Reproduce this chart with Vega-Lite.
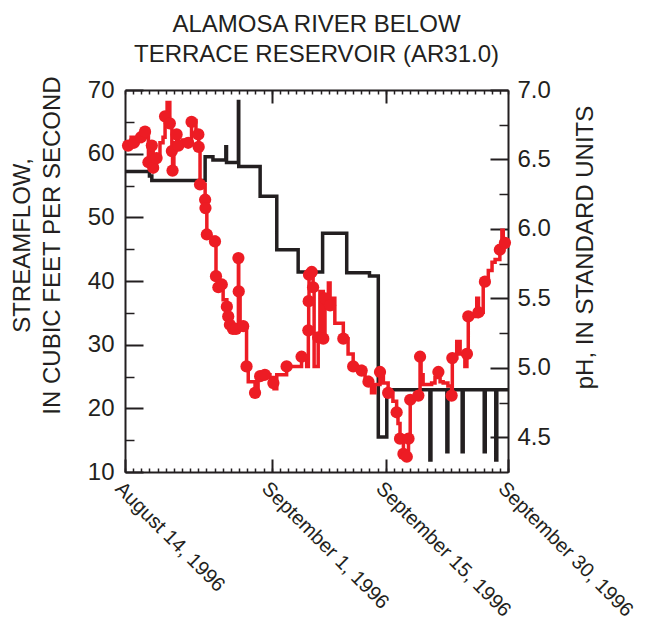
{
  "$schema": "https://vega.github.io/schema/vega-lite/v6.json",
  "width": 383,
  "height": 382,
  "autosize": "none",
  "padding": {"left": 125, "top": 90, "right": 138, "bottom": 154},
  "title": {
    "text": ["ALAMOSA RIVER BELOW", "TERRACE RESERVOIR (AR31.0)"],
    "font": "Liberation Sans",
    "fontSize": 24,
    "fontWeight": "normal",
    "color": "#231F20",
    "lineHeight": 30,
    "anchor": "middle",
    "baseline": "alphabetic",
    "offset": -10
  },
  "config": {
    "view": {"stroke": null},
    "font": "Liberation Sans",
    "axis": {
      "grid": false,
      "domainColor": "#231F20",
      "domainWidth": 2,
      "tickColor": "#231F20",
      "tickWidth": 1.5,
      "labelColor": "#231F20",
      "titleColor": "#231F20",
      "labelFont": "Liberation Sans",
      "titleFont": "Liberation Sans",
      "titleFontWeight": "normal",
      "labelLimit": 400
    }
  },
  "datasets": {
    "flow": [
      {"date": "1996-08-14T00:00", "cfs": 57.2},
      {"date": "1996-08-17T00:00", "cfs": 56.5},
      {"date": "1996-08-17T07:00", "cfs": 55.8},
      {"date": "1996-08-23T20:00", "cfs": 59.5},
      {"date": "1996-08-24T19:00", "cfs": 59.0},
      {"date": "1996-08-26T09:00", "cfs": 61.1},
      {"date": "1996-08-26T11:00", "cfs": 58.6},
      {"date": "1996-08-27T22:00", "cfs": 68.2},
      {"date": "1996-08-27T23:00", "cfs": 58.0},
      {"date": "1996-08-30T14:00", "cfs": 53.3},
      {"date": "1996-09-01T15:00", "cfs": 44.9},
      {"date": "1996-09-04T06:00", "cfs": 41.4},
      {"date": "1996-09-07T06:00", "cfs": 47.5},
      {"date": "1996-09-10T05:00", "cfs": 41.3},
      {"date": "1996-09-13T00:00", "cfs": 40.8},
      {"date": "1996-09-14T02:00", "cfs": 15.5},
      {"date": "1996-09-15T03:00", "cfs": 22.9},
      {"date": "1996-09-20T10:00", "cfs": 11.9},
      {"date": "1996-09-20T13:00", "cfs": 22.9},
      {"date": "1996-09-22T12:00", "cfs": 13.2},
      {"date": "1996-09-22T15:00", "cfs": 22.9},
      {"date": "1996-09-24T09:00", "cfs": 13.2},
      {"date": "1996-09-24T12:00", "cfs": 22.9},
      {"date": "1996-09-27T02:00", "cfs": 13.2},
      {"date": "1996-09-27T05:00", "cfs": 22.9},
      {"date": "1996-09-28T12:00", "cfs": 11.9},
      {"date": "1996-09-28T15:00", "cfs": 22.9},
      {"date": "1996-09-30T00:00", "cfs": 22.9}
    ],
    "ph": [
      {"date": "1996-08-14T00:00", "ph": 6.62, "sampled": 0},
      {"date": "1996-08-14T09:00", "ph": 6.60, "sampled": 1},
      {"date": "1996-08-14T18:00", "ph": 6.66, "sampled": 0},
      {"date": "1996-08-15T02:00", "ph": 6.62, "sampled": 1},
      {"date": "1996-08-15T14:00", "ph": 6.63, "sampled": 0},
      {"date": "1996-08-15T23:00", "ph": 6.66, "sampled": 1},
      {"date": "1996-08-16T11:00", "ph": 6.70, "sampled": 1},
      {"date": "1996-08-16T21:00", "ph": 6.48, "sampled": 1},
      {"date": "1996-08-17T07:00", "ph": 6.60, "sampled": 1},
      {"date": "1996-08-17T11:00", "ph": 6.44, "sampled": 1},
      {"date": "1996-08-17T21:00", "ph": 6.51, "sampled": 1},
      {"date": "1996-08-18T07:00", "ph": 6.62, "sampled": 0},
      {"date": "1996-08-18T16:00", "ph": 6.66, "sampled": 0},
      {"date": "1996-08-18T22:00", "ph": 6.81, "sampled": 1},
      {"date": "1996-08-19T04:00", "ph": 6.91, "sampled": 0},
      {"date": "1996-08-19T12:00", "ph": 6.76, "sampled": 1},
      {"date": "1996-08-19T18:00", "ph": 6.56, "sampled": 1},
      {"date": "1996-08-19T20:00", "ph": 6.42, "sampled": 1},
      {"date": "1996-08-20T00:00", "ph": 6.62, "sampled": 0},
      {"date": "1996-08-20T08:00", "ph": 6.68, "sampled": 1},
      {"date": "1996-08-20T13:00", "ph": 6.60, "sampled": 1},
      {"date": "1996-08-21T00:00", "ph": 6.64, "sampled": 0},
      {"date": "1996-08-21T12:00", "ph": 6.60, "sampled": 0},
      {"date": "1996-08-21T18:00", "ph": 6.62, "sampled": 1},
      {"date": "1996-08-22T04:00", "ph": 6.77, "sampled": 1},
      {"date": "1996-08-22T11:00", "ph": 6.78, "sampled": 0},
      {"date": "1996-08-22T17:00", "ph": 6.70, "sampled": 0},
      {"date": "1996-08-23T00:00", "ph": 6.68, "sampled": 1},
      {"date": "1996-08-23T01:00", "ph": 6.59, "sampled": 1},
      {"date": "1996-08-23T05:00", "ph": 6.32, "sampled": 1},
      {"date": "1996-08-23T20:00", "ph": 6.21, "sampled": 1},
      {"date": "1996-08-23T21:00", "ph": 6.15, "sampled": 1},
      {"date": "1996-08-24T01:00", "ph": 5.96, "sampled": 1},
      {"date": "1996-08-24T10:00", "ph": 5.94, "sampled": 0},
      {"date": "1996-08-25T01:00", "ph": 5.91, "sampled": 1},
      {"date": "1996-08-25T04:00", "ph": 5.66, "sampled": 1},
      {"date": "1996-08-25T11:00", "ph": 5.58, "sampled": 1},
      {"date": "1996-08-25T21:00", "ph": 5.60, "sampled": 1},
      {"date": "1996-08-26T01:00", "ph": 5.49, "sampled": 0},
      {"date": "1996-08-26T12:00", "ph": 5.44, "sampled": 1},
      {"date": "1996-08-26T16:00", "ph": 5.37, "sampled": 1},
      {"date": "1996-08-26T21:00", "ph": 5.31, "sampled": 1},
      {"date": "1996-08-27T06:00", "ph": 5.28, "sampled": 1},
      {"date": "1996-08-27T15:00", "ph": 5.28, "sampled": 1},
      {"date": "1996-08-27T22:00", "ph": 5.79, "sampled": 1},
      {"date": "1996-08-27T23:00", "ph": 5.55, "sampled": 1},
      {"date": "1996-08-28T03:00", "ph": 5.32, "sampled": 0},
      {"date": "1996-08-28T12:00", "ph": 5.30, "sampled": 1},
      {"date": "1996-08-28T22:00", "ph": 5.01, "sampled": 1},
      {"date": "1996-08-29T03:00", "ph": 4.90, "sampled": 0},
      {"date": "1996-08-29T23:00", "ph": 4.82, "sampled": 1},
      {"date": "1996-08-30T08:00", "ph": 4.92, "sampled": 0},
      {"date": "1996-08-30T14:00", "ph": 4.94, "sampled": 1},
      {"date": "1996-08-31T04:00", "ph": 4.95, "sampled": 1},
      {"date": "1996-08-31T19:00", "ph": 4.93, "sampled": 0},
      {"date": "1996-09-01T05:00", "ph": 4.89, "sampled": 1},
      {"date": "1996-09-01T07:00", "ph": 4.85, "sampled": 0},
      {"date": "1996-09-01T15:00", "ph": 4.95, "sampled": 0},
      {"date": "1996-09-02T20:00", "ph": 5.01, "sampled": 1},
      {"date": "1996-09-04T02:00", "ph": 5.01, "sampled": 0},
      {"date": "1996-09-04T16:00", "ph": 5.08, "sampled": 1},
      {"date": "1996-09-05T07:00", "ph": 5.01, "sampled": 0},
      {"date": "1996-09-05T12:00", "ph": 5.27, "sampled": 1},
      {"date": "1996-09-05T13:00", "ph": 5.48, "sampled": 1},
      {"date": "1996-09-05T14:00", "ph": 5.67, "sampled": 1},
      {"date": "1996-09-05T22:00", "ph": 5.69, "sampled": 1},
      {"date": "1996-09-06T02:00", "ph": 5.58, "sampled": 1},
      {"date": "1996-09-06T05:00", "ph": 5.01, "sampled": 0},
      {"date": "1996-09-06T17:00", "ph": 5.22, "sampled": 1},
      {"date": "1996-09-06T22:00", "ph": 5.55, "sampled": 0},
      {"date": "1996-09-07T08:00", "ph": 5.21, "sampled": 1},
      {"date": "1996-09-07T13:00", "ph": 5.50, "sampled": 1},
      {"date": "1996-09-07T23:00", "ph": 5.61, "sampled": 0},
      {"date": "1996-09-08T04:00", "ph": 5.45, "sampled": 1},
      {"date": "1996-09-08T10:00", "ph": 5.50, "sampled": 0},
      {"date": "1996-09-08T18:00", "ph": 5.32, "sampled": 0},
      {"date": "1996-09-09T03:00", "ph": 5.32, "sampled": 0},
      {"date": "1996-09-09T19:00", "ph": 5.21, "sampled": 1},
      {"date": "1996-09-10T09:00", "ph": 5.10, "sampled": 0},
      {"date": "1996-09-11T00:00", "ph": 5.01, "sampled": 1},
      {"date": "1996-09-12T01:00", "ph": 4.98, "sampled": 1},
      {"date": "1996-09-12T11:00", "ph": 4.93, "sampled": 0},
      {"date": "1996-09-12T21:00", "ph": 4.90, "sampled": 1},
      {"date": "1996-09-13T06:00", "ph": 4.82, "sampled": 0},
      {"date": "1996-09-13T16:00", "ph": 4.88, "sampled": 0},
      {"date": "1996-09-14T07:00", "ph": 4.97, "sampled": 1},
      {"date": "1996-09-14T17:00", "ph": 4.89, "sampled": 0},
      {"date": "1996-09-15T07:00", "ph": 4.82, "sampled": 1},
      {"date": "1996-09-15T21:00", "ph": 4.76, "sampled": 0},
      {"date": "1996-09-16T08:00", "ph": 4.68, "sampled": 1},
      {"date": "1996-09-16T12:00", "ph": 4.60, "sampled": 0},
      {"date": "1996-09-16T18:00", "ph": 4.49, "sampled": 1},
      {"date": "1996-09-17T04:00", "ph": 4.38, "sampled": 1},
      {"date": "1996-09-17T14:00", "ph": 4.36, "sampled": 1},
      {"date": "1996-09-17T19:00", "ph": 4.49, "sampled": 1},
      {"date": "1996-09-18T00:00", "ph": 4.77, "sampled": 1},
      {"date": "1996-09-18T11:00", "ph": 4.78, "sampled": 0},
      {"date": "1996-09-19T00:00", "ph": 4.80, "sampled": 1},
      {"date": "1996-09-19T05:00", "ph": 5.08, "sampled": 1},
      {"date": "1996-09-19T08:00", "ph": 4.95, "sampled": 0},
      {"date": "1996-09-19T14:00", "ph": 4.88, "sampled": 0},
      {"date": "1996-09-20T15:00", "ph": 4.89, "sampled": 0},
      {"date": "1996-09-21T01:00", "ph": 4.93, "sampled": 0},
      {"date": "1996-09-21T11:00", "ph": 4.97, "sampled": 1},
      {"date": "1996-09-21T16:00", "ph": 4.90, "sampled": 0},
      {"date": "1996-09-22T01:00", "ph": 4.89, "sampled": 0},
      {"date": "1996-09-22T15:00", "ph": 4.87, "sampled": 0},
      {"date": "1996-09-23T02:00", "ph": 4.80, "sampled": 1},
      {"date": "1996-09-23T04:00", "ph": 5.07, "sampled": 1},
      {"date": "1996-09-23T17:00", "ph": 5.19, "sampled": 0},
      {"date": "1996-09-24T03:00", "ph": 5.10, "sampled": 0},
      {"date": "1996-09-24T17:00", "ph": 5.01, "sampled": 0},
      {"date": "1996-09-24T23:00", "ph": 5.10, "sampled": 1},
      {"date": "1996-09-25T03:00", "ph": 5.37, "sampled": 1},
      {"date": "1996-09-25T17:00", "ph": 5.37, "sampled": 0},
      {"date": "1996-09-26T04:00", "ph": 5.50, "sampled": 0},
      {"date": "1996-09-26T09:00", "ph": 5.40, "sampled": 1},
      {"date": "1996-09-26T23:00", "ph": 5.62, "sampled": 0},
      {"date": "1996-09-27T04:00", "ph": 5.62, "sampled": 1},
      {"date": "1996-09-27T14:00", "ph": 5.70, "sampled": 0},
      {"date": "1996-09-28T01:00", "ph": 5.76, "sampled": 0},
      {"date": "1996-09-28T10:00", "ph": 5.78, "sampled": 0},
      {"date": "1996-09-29T00:00", "ph": 5.85, "sampled": 1},
      {"date": "1996-09-29T06:00", "ph": 5.99, "sampled": 0},
      {"date": "1996-09-29T10:00", "ph": 5.87, "sampled": 0},
      {"date": "1996-09-29T15:00", "ph": 5.90, "sampled": 1},
      {"date": "1996-09-29T22:00", "ph": 5.92, "sampled": 0}
    ]
  },
  "resolve": {
    "scale": {"y": "independent"},
    "axis": {"x": "independent", "y": "independent"}
  },
  "layer": [
    {
      "data": {"name": "flow"},
      "mark": {"type": "line", "interpolate": "step-after", "color": "#231F20", "strokeWidth": 3.5},
      "encoding": {
        "x": {
          "field": "date", "type": "temporal",
          "scale": {"domain": [{"year": 1996, "month": 8, "date": 14}, {"year": 1996, "month": 9, "date": 30}]},
          "axis": {
            "orient": "bottom", "title": null,
            "values": [{"year": 1996, "month": 8, "date": 14}, {"year": 1996, "month": 9, "date": 1}, {"year": 1996, "month": 9, "date": 15}, {"year": 1996, "month": 9, "date": 30}],
            "format": "%B %-d, %Y",
            "labelAngle": 45, "labelAlign": "left", "labelBaseline": "top",
            "labelFontSize": 20, "labelPadding": 19, "labelFlush": false, "labelOverlap": false, "labelLimit": 400,
            "tickSize": -13, "tickWidth": 2
          }
        },
        "y": {
          "field": "cfs", "type": "quantitative",
          "scale": {"domain": [10, 70], "nice": false, "zero": false},
          "axis": {
            "orient": "left",
            "values": [10, 20, 30, 40, 50, 60, 70],
            "tickSize": -18, "tickWidth": 2, "labelPadding": 29, "labelFontSize": 24,
            "title": ["STREAMFLOW,", "IN CUBIC FEET PER SECOND"],
            "titleFontSize": 24, "titleLineHeight": 30,
            "titleAngle": -90, "titleAlign": "center", "titleBaseline": "alphabetic",
            "titleX": -96, "titleY": 155
          }
        }
      }
    },
    {
      "data": {"name": "flow"},
      "mark": {"type": "line", "interpolate": "step-after", "opacity": 0},
      "encoding": {
        "x": {
          "field": "date", "type": "temporal",
          "axis": {"orient": "top", "title": null, "labels": false, "tickCount": {"interval": "day", "step": 1}, "tickSize": -4, "domain": true}
        },
        "y": {
          "field": "cfs", "type": "quantitative",
          "scale": {"domain": [10, 70], "nice": false, "zero": false},
          "axis": {"orient": "left", "title": null, "labels": false, "domain": false, "values": [15, 25, 35, 45, 55, 65], "tickSize": -9}
        }
      }
    },
    {
      "data": {"name": "ph"},
      "mark": {"type": "line", "interpolate": "step-after", "color": "#ED1C24", "strokeWidth": 3.5},
      "encoding": {
        "x": {
          "field": "date", "type": "temporal",
          "axis": {"orient": "bottom", "title": null, "labels": false, "domain": false, "tickCount": {"interval": "day", "step": 1}, "tickSize": -4}
        },
        "y": {
          "field": "ph", "type": "quantitative",
          "scale": {"domain": [4.25, 7.0], "nice": false, "zero": false},
          "axis": {
            "orient": "right",
            "values": [4.5, 5.0, 5.5, 6.0, 6.5, 7.0], "format": ".1f",
            "tickSize": -18, "tickWidth": 2, "labelPadding": 27, "labelFontSize": 24,
            "title": "pH, IN STANDARD UNITS", "titleFontSize": 24,
            "titleAngle": -90, "titleAlign": "center", "titleBaseline": "alphabetic",
            "titleX": 84, "titleY": 157
          }
        }
      }
    },
    {
      "data": {"name": "ph"},
      "transform": [{"filter": "datum.sampled == 1"}],
      "mark": {"type": "circle", "color": "#ED1C24", "size": 150, "opacity": 1},
      "encoding": {
        "x": {
          "field": "date", "type": "temporal",
          "axis": {"orient": "top", "title": null, "labels": false, "domain": false, "values": [{"year": 1996, "month": 9, "date": 1}, {"year": 1996, "month": 9, "date": 15}], "tickSize": -13, "tickWidth": 2}
        },
        "y": {
          "field": "ph", "type": "quantitative",
          "scale": {"domain": [4.25, 7.0], "nice": false, "zero": false},
          "axis": {"orient": "right", "title": null, "labels": false, "domain": false, "values": [4.75, 5.25, 5.75, 6.25, 6.75], "tickSize": -9}
        }
      }
    }
  ]
}
